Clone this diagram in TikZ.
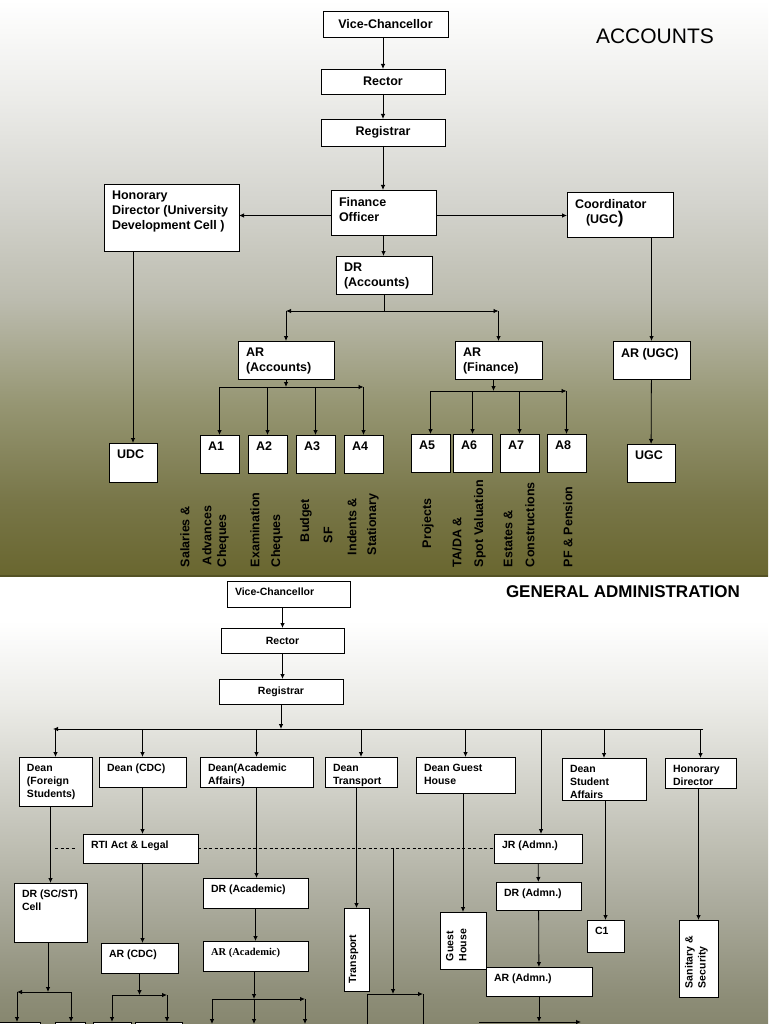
\documentclass[tikz,border=0pt]{standalone}
\usepackage{fontspec}
\setmainfont{Liberation Sans}
\newfontfamily\serifbold{Liberation Serif}[BoldFont={Liberation Serif Bold}]
\usepackage{tikz}
\usetikzlibrary{arrows.meta}
\usepackage{xcolor}
\definecolor{acc-bot}{HTML}{69662F}
\definecolor{acc-low}{HTML}{787648}
\definecolor{acc-mid}{HTML}{969673}
\definecolor{acc-grey}{HTML}{BCBCAF}
\definecolor{acc-light}{HTML}{D4D4CE}
\definecolor{acc-pale}{HTML}{ECECE9}
\definecolor{adm-bot}{HTML}{87876F}
\definecolor{adm-low}{HTML}{8C8C76}
\definecolor{adm-mid}{HTML}{ACAC9E}
\definecolor{adm-grey}{HTML}{CDCDC4}
\definecolor{adm-pale}{HTML}{ECECE8}
\pgfdeclareverticalshading{accshade}{100bp}{color(0bp)=(acc-bot); color(25bp)=(acc-bot);
  color(31.5bp)=(acc-low); color(40bp)=(acc-mid); color(49bp)=(acc-grey);
  color(57.5bp)=(acc-light); color(66.5bp)=(acc-pale); color(75bp)=(white); color(100bp)=(white)}
\pgfdeclareverticalshading{admshade}{100bp}{color(0bp)=(adm-bot); color(25bp)=(adm-bot);
  color(27.7bp)=(adm-low); color(38.8bp)=(adm-mid); color(50bp)=(adm-grey);
  color(61bp)=(adm-pale); color(70bp)=(white); color(100bp)=(white)}
\tikzset{
  obox/.style={draw=black, fill=white, line width=0.9pt, rectangle, inner sep=0pt, outer sep=0pt},
  otext/.style={inner sep=0pt, outer sep=0pt, align=left},
  arr/.style={-{Latex[length=5pt,width=4.5pt]}, line width=0.8pt},
  ln/.style={line width=0.8pt},
  dashln/.style={line width=0.7pt, dash pattern=on 3pt off 2.5pt}
}
\newcommand{\obox}[6]{%  \obox{name}{x}{y}{w}{h}{text}, text centred
  \node[obox, minimum width=#4, minimum height=#5] (#1) at (#2+#4/2,#3+#5/2) {#6};}
\newcommand{\lbox}[6]{%  \lbox{name}{x}{y}{w}{h}{text}, text top left
  \node[obox, minimum width=#4, minimum height=#5] (#1) at (#2+#4/2,#3+#5/2) {};
  \node[otext, anchor=north west] (#1-t) at ([xshift=8pt,yshift=-7pt]#1.north west) {#6};}

\begin{document}
\begin{tikzpicture}[x=1pt, y=-1pt]
  \useasboundingbox (0,0) rectangle (768,1024);
  \clip (0,0) rectangle (768,1024);
  % ── backgrounds ──
  \shade[shading=accshade] (0,0) rectangle (768,576);
  \shade[shading=admshade] (0,576) rectangle (768,1024);
  \draw[line width=1.2pt, acc-bot!80!black] (0,576) -- (768,576);

  % ── ACCOUNTS ──
  \begin{scope}[font=\bfseries\fontsize{12.5}{15}\selectfont]
    \node[otext, anchor=base west, font=\fontsize{21}{25}\selectfont] (acc-title) at (596,44) {ACCOUNTS};
    \obox{vc}{323}{11}{125}{26}{Vice-Chancellor}
    \obox{rec}{321}{69}{124}{25}{Rector}
    \obox{reg}{321}{119}{124}{27}{Registrar}
    \lbox{fo}{331}{190}{105}{45}{Finance\\Officer}
    \lbox{hd}{104}{184}{135}{67}{Honorary\\Director (University\\Development Cell )}
    \lbox{co}{567}{192}{106}{45}{Coordinator\\\hspace*{11pt}(UGC{\fontsize{17}{15}\selectfont)}}
    \lbox{dr}{336}{256}{96}{38}{DR\\(Accounts)}
    \lbox{ara}{238}{341}{96}{38}{AR\\(Accounts)}
    \lbox{arf}{455}{341}{87}{38}{AR\\(Finance)}
    \lbox{aru}{613}{341}{77}{38}{AR (UGC)}
    \lbox{udc}{109}{443}{48}{39}{UDC}
    \lbox{ugc}{627}{444}{48}{38}{UGC}
    \foreach \n/\x in {1/200,2/248,3/296,4/344}{\lbox{a\n}{\x}{435}{39}{38}{A\n}}
    \foreach \n/\x in {5/411,6/453,7/500,8/547}{\lbox{a\n}{\x}{434}{39}{38}{A\n}}
    % duties, written upwards
    \foreach \x/\y/\t in {185/567/Salaries \&, 207/565/Advances, 223/567/Cheques,
        255/567/Examination, 277/567/Cheques, 306/542/Budget, 328/543/SF,
        352/555/Indents \&, 373/555/Stationary, 428/548/Projects,
        457/567/{TA/DA \&}, 480/567/Spot Valuation, 508/567/Estates \&,
        530/567/Constructions, 568/567/PF \& Pension}
      \node[otext, rotate=90, anchor=west] (duty\x) at (\x,\y) {\t};

    \draw[arr] (vc.south -| rec.north) -- (rec.north);
    \draw[arr] (rec) -- (reg);
    \draw[arr] (reg.south) -- (reg.south |- fo.north);
    \draw[arr] ([yshift=-3pt]fo.west) -- ([yshift=-3pt]fo.west -| hd.east);
    \draw[arr] ([yshift=-3pt]fo.east) -- ([yshift=-3pt]fo.east -| co.west);
    \draw[arr] (fo.south) -- (fo.south |- dr.north);
    \coordinate (drbar) at (0,311);
    \draw[ln] (dr.south) -- (dr.south |- drbar);
    \draw[arr] (dr.south |- drbar) -- (ara.north |- drbar);
    \draw[arr] (dr.south |- drbar) -- (arf.north |- drbar);
    \draw[arr] (ara.north |- drbar) -- (ara.north);
    \draw[arr] (arf.north |- drbar) -- (arf.north);
    \coordinate (abar) at (0,387);
    \draw[arr] (ara.south) -- (ara.south |- abar);
    \draw[arr] (a1.north |- abar) -- (a4.north |- abar);
    \foreach \n in {1,...,4} \draw[arr] (a\n.north |- abar) -- (a\n.north);
    \coordinate (fbar) at (0,391);
    \draw[arr] ([xshift=-5pt]arf.south) -- ([xshift=-5pt]arf.south |- fbar);
    \draw[arr] (a5.north |- fbar) -- (a8.north |- fbar);
    \foreach \n in {5,...,8} \draw[arr] (a\n.north |- fbar) -- (a\n.north);
    \draw[arr] (hd.south -| udc.north) -- (udc.north);
    \draw[arr] (co.south -| aru.north) -- (aru.north);
    \draw[arr] (aru) -- (ugc);
  \end{scope}

  % ── GENERAL ADMINISTRATION ──
  \begin{scope}[font=\bfseries\fontsize{10.5}{13}\selectfont]
    \node[otext, anchor=base west, font=\bfseries\fontsize{17}{20}\selectfont] (adm-title) at (506,597) {GENERAL ADMINISTRATION};
    \lbox{vc2}{227}{581}{123}{26}{Vice-Chancellor}
    \obox{rec2}{221}{628}{123}{25}{Rector}
    \obox{reg2}{219}{679}{124}{25}{Registrar}
    \lbox{dfs}{19}{757}{73}{49}{Dean\\(Foreign\\Students)}
    \lbox{dcdc}{99}{757}{87}{30}{Dean (CDC)}
    \lbox{daa}{200}{757}{113}{30}{Dean(Academic\\Affairs)}
    \lbox{dt}{325}{757}{72}{30}{Dean\\Transport}
    \lbox{dgh}{416}{757}{99}{36}{Dean Guest\\House}
    \lbox{dsa}{562}{758}{84}{42}{Dean\\Student\\Affairs}
    \lbox{hon2}{665}{758}{71}{30}{Honorary\\Director}
    \lbox{rti}{83}{834}{115}{29}{RTI Act \& Legal}
    \lbox{jr}{494}{834}{88}{29}{JR (Admn.)}
    \lbox{drsc}{14}{883}{73}{59}{DR (SC/ST)\\Cell}
    \lbox{dra}{203}{878}{105}{30}{DR (Academic)}
    \lbox{dradm}{496}{882}{85}{28}{DR (Admn.)}
    \lbox{arcdc}{101}{943}{77}{30}{AR (CDC)}
    \lbox{ara2}{203}{941}{105}{30}{\serifbold\fontsize{10.5}{12.5}\selectfont AR (Academic)}
    \lbox{aradm}{486}{967}{106}{29}{AR (Admn.)}
    \lbox{c1}{587}{920}{37}{32}{C1}
    \obox{tr}{344}{908}{25}{83}{}
    \obox{gh}{440}{912}{46}{57}{}
    \obox{san}{679}{920}{39}{77}{}
    \node[otext, rotate=90, anchor=north west] (tr-t) at (349,983) {Transport};
    \node[otext, rotate=90, anchor=north west] (gh-t) at (446,961) {Guest\\House};
    \node[otext, rotate=90, anchor=north west] (san-t) at (685,988) {Sanitary \&\\Security};
    % boxes cut by the lower edge
    \obox{sc1}{-6}{1022}{46}{20}{}
    \obox{sc2}{55}{1022}{30}{20}{}
    \obox{cd1}{93}{1022}{38}{20}{}
    \obox{cd2}{135}{1022}{47}{20}{}

    \draw[arr] (vc2.south -| rec2.north) -- (rec2.north);
    \draw[arr] (rec2.south) -- (rec2.south |- reg2.north);
    \coordinate (gbar) at (0,729);
    \coordinate (gleft) at (53,729);
    \coordinate (gright) at (703,729);
    \draw[arr] (reg2.south) -- (reg2.south |- gbar);
    \draw[arr] (gright) -- (gleft);
    \foreach \n in {dfs,dcdc,daa,dt,dgh,dsa,hon2} \draw[arr] (\n.north |- gbar) -- (\n.north);
    \coordinate (jrdrop) at (541,729);
    \draw[arr] (jrdrop) -- (jrdrop |- jr.north);
    \draw[arr] (dfs.south -| drsc.north) -- (drsc.north);
    \draw[arr] (dcdc.south) -- (dcdc.south |- rti.north);
    \draw[arr] (rti.south -| dcdc.south) -- (dcdc.south |- arcdc.north);
    \draw[arr] (daa.south) -- (daa.south |- dra.north);
    \draw[arr] (dra) -- (ara2);
    \draw[arr] (dt.south -| tr.north) -- (tr.north);
    \draw[arr] (dgh.south -| gh.north) -- (gh.north);
    \draw[arr] (jr) -- (dradm);
    \draw[arr] (dradm) -- (aradm);
    \draw[arr] (dsa.south -| c1.north) -- (c1.north);
    \draw[arr] (hon2.south -| san.north) -- (san.north);
    % dashed link through RTI
    \coordinate (dsh) at (55,0);
    \draw[dashln] (dsh |- rti.west) -- ([xshift=-7pt]rti.west);
    \draw[dashln] (rti.east) -- (jr.west);
    % transport branch
    \coordinate (trj) at (393,0);
    \coordinate (trl) at (367,994);
    \coordinate (trr) at (423,994);
    \coordinate (pgbot) at (0,1030);
    \draw[arr] (trj |- rti.east) -- (trj |- trl);
    \draw[arr] (trl) -- (trr);
    \draw[ln] (trl) -- (trl |- pgbot);
    \draw[ln] (trr) -- (trr |- pgbot);
    % SC/ST branch
    \coordinate (scj) at (48,992);
    \coordinate (scl) at (17,992);
    \coordinate (scr) at (71,992);
    \draw[arr] (scj |- drsc.south) -- (scj);
    \draw[arr] (scr) -- (scl);
    \draw[arr] (scl) -- (scl |- sc1.north);
    \draw[arr] (scr) -- (scr |- sc2.north);
    % CDC branch
    \coordinate (cdl) at (112,995);
    \coordinate (cdr) at (167,995);
    \draw[arr] (arcdc.south) -- (arcdc.south |- cdl);
    \draw[arr] (cdl) -- (cdr);
    \draw[arr] (cdl) -- (cdl |- cd1.north);
    \draw[arr] (cdr) -- (cdr |- cd2.north);
    % academic branch
    \coordinate (acl) at (212,999);
    \coordinate (acm) at (254,999);
    \coordinate (acr) at (305,999);
    \coordinate (edge) at (0,1024);
    \draw[arr] (ara2.south -| acm) -- (acm);
    \draw[arr] (acl) -- (acr);
    \foreach \c in {acl,acm,acr} \draw[arr] (\c) -- (\c |- edge);
    % admin branch
    \coordinate (adl) at (479,1022);
    \coordinate (adr) at (581,1022);
    \draw[arr] (aradm.south) -- (aradm.south |- adl);
    \draw[arr] (adl) -- (adr);
  \end{scope}
\end{tikzpicture}
\end{document}
